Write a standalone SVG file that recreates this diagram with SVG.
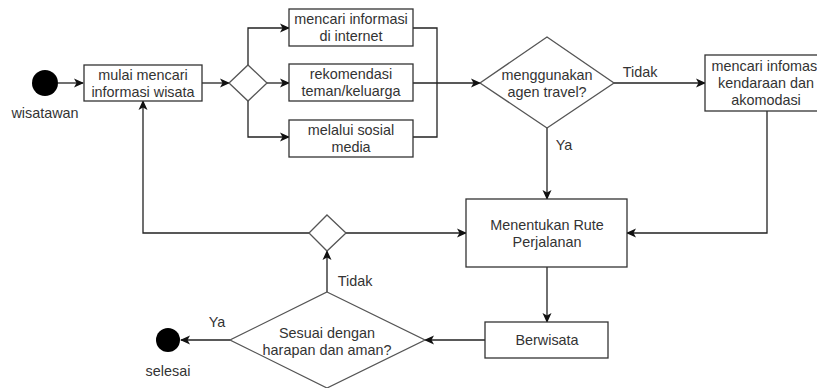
<svg xmlns="http://www.w3.org/2000/svg" width="817" height="388" viewBox="0 0 817 388">
<style>
.box{fill:#fff;stroke:#333;stroke-width:1.3}
.dia{fill:#fff;stroke:#555;stroke-width:1.3}
.dot{fill:#000}
.t{font-family:"Liberation Sans",Arial,sans-serif;font-size:14.4px;fill:#333;text-anchor:middle}
.e{fill:none;stroke:#222;stroke-width:1.3}
</style>
<defs>
<marker id="a" viewBox="0 0 10 10" refX="9" refY="5" markerWidth="10" markerHeight="10" markerUnits="userSpaceOnUse" orient="auto">
<path d="M0,0.5 L10,5 L0,9.5 L2.5,5 z" fill="#111"/>
</marker>
</defs>
<rect width="817" height="388" fill="#fff"/>
<g id="connectors">
<path class="e" d="M58,83 H83" marker-end="url(#a)"/>
<path class="e" d="M202,83 H229" marker-end="url(#a)"/>
<path class="e" d="M248,65 V28 H289" marker-end="url(#a)"/>
<path class="e" d="M267,83 H289" marker-end="url(#a)"/>
<path class="e" d="M248,101 V137 H289" marker-end="url(#a)"/>
<path class="e" d="M413,28 H437 V137 H413"/>
<path class="e" d="M413,83 H480" marker-end="url(#a)"/>
<path class="e" d="M614,83 H705" marker-end="url(#a)"/>
<path class="e" d="M547,128 V199" marker-end="url(#a)"/>
<path class="e" d="M767,111 V233 H627" marker-end="url(#a)"/>
<path class="e" d="M547,267 V322" marker-end="url(#a)"/>
<path class="e" d="M485,340 H425" marker-end="url(#a)"/>
<path class="e" d="M230,340 H181" marker-end="url(#a)"/>
<path class="e" d="M327,292 V251" marker-end="url(#a)"/>
<path class="e" d="M346,233 H466" marker-end="url(#a)"/>
<path class="e" d="M309,233 H143 V101" marker-end="url(#a)"/>
<text class="t" x="640" y="77">Tidak</text>
<text class="t" x="564" y="150">Ya</text>
<text class="t" x="355" y="286">Tidak</text>
<text class="t" x="217" y="327">Ya</text>
</g>
<g id="start">
<circle class="dot" cx="45" cy="83" r="13"/>
<text class="t" x="45" y="118">wisatawan</text>
</g>
<g id="mulai">
<rect class="box" x="84" y="65" width="118" height="36"/>
<text class="t" x="143" y="80">mulai mencari</text>
<text class="t" x="143" y="97">informasi wisata</text>
</g>
<g id="split">
<polygon class="dia" points="248,65 267,83 248,101 229,83"/>
</g>
<g id="internet">
<rect class="box" x="289" y="9" width="124" height="37"/>
<text class="t" x="351" y="24">mencari informasi</text>
<text class="t" x="351" y="41">di internet</text>
</g>
<g id="rekomendasi">
<rect class="box" x="289" y="64" width="124" height="37"/>
<text class="t" x="351" y="79">rekomendasi</text>
<text class="t" x="351" y="96">teman/keluarga</text>
</g>
<g id="sosial">
<rect class="box" x="289" y="120" width="124" height="37"/>
<text class="t" x="351" y="135">melalui sosial</text>
<text class="t" x="351" y="152">media</text>
</g>
<g id="agen">
<polygon class="dia" points="547,37 614,83 547,128 480,83"/>
<text class="t" x="547" y="80">menggunakan</text>
<text class="t" x="547" y="97">agen travel?</text>
</g>
<g id="kendaraan">
<rect class="box" x="705" y="55" width="122" height="56"/>
<text class="t" x="766" y="71">mencari infomasi</text>
<text class="t" x="766" y="88">kendaraan dan</text>
<text class="t" x="766" y="105">akomodasi</text>
</g>
<g id="rute">
<rect class="box" x="466" y="199" width="161" height="68"/>
<text class="t" x="547" y="230">Menentukan Rute</text>
<text class="t" x="547" y="247">Perjalanan</text>
</g>
<g id="merge">
<polygon class="dia" points="327,215 346,233 327,251 309,233"/>
</g>
<g id="berwisata">
<rect class="box" x="485" y="322" width="123" height="36"/>
<text class="t" x="547" y="345">Berwisata</text>
</g>
<g id="sesuai">
<polygon class="dia" points="327,292 425,340 327,388 230,340"/>
<text class="t" x="327" y="338">Sesuai dengan</text>
<text class="t" x="327" y="355">harapan dan aman?</text>
</g>
<g id="end">
<circle class="dot" cx="168" cy="340" r="12"/>
<text class="t" x="168" y="376">selesai</text>
</g>
</svg>
